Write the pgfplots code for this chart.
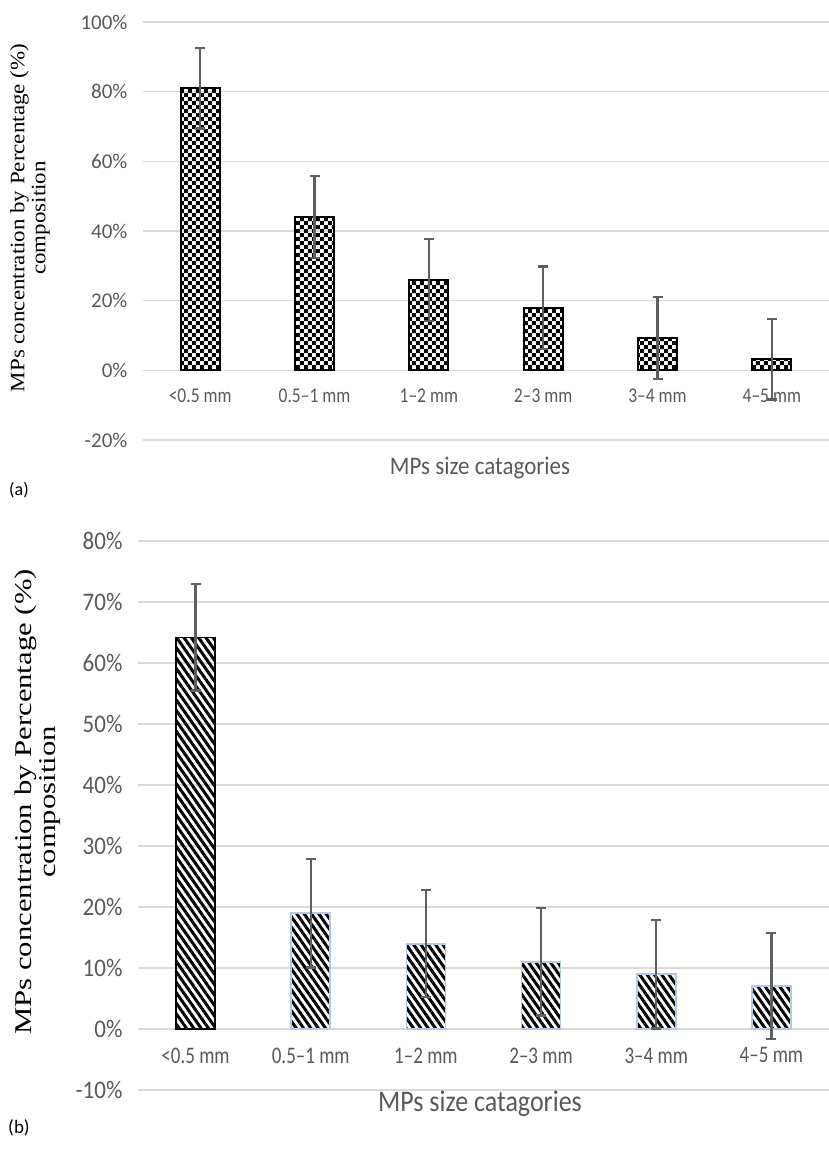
\documentclass[border=0pt]{standalone}
\usepackage{pgfplots}
\pgfplotsset{compat=1.18}
\usepackage{fontspec}
\setmainfont{Carlito}
\newfontfamily\serifx{Liberation Serif}
\usetikzlibrary{patterns,patterns.meta}
\definecolor{tickc}{HTML}{595959}
\definecolor{gridc}{HTML}{D9D9D9}
\definecolor{errc}{HTML}{5F5F5F}
\definecolor{lblue}{HTML}{B4C7E7}

\pgfdeclarepatternformonly{checker}{\pgfqpoint{0pt}{0pt}}{\pgfqpoint{8.4pt}{8.4pt}}{\pgfqpoint{8.4pt}{8.4pt}}{%
 \pgfpathrectangle{\pgfqpoint{0pt}{0pt}}{\pgfqpoint{4.2pt}{4.2pt}}%
 \pgfpathrectangle{\pgfqpoint{4.2pt}{4.2pt}}{\pgfqpoint{4.2pt}{4.2pt}}%
 \pgfusepath{fill}}

\pgfplotsset{excel/.style={
  scale only axis,
  xmin=-0.5, xmax=5.5,
  axis x line*=middle, axis y line*=left,
  y axis line style={draw=none},
  x axis line style={draw=gridc, line width=1.4pt},
  tick style={draw=none},
  ymajorgrids,
  major grid style={draw=gridc, line width=1.4pt},
  xtick={0,...,5},
  xticklabels={<0.5 mm,0.5--1 mm,1--2 mm,2--3 mm,3--4 mm,4--5 mm},
  ticklabel style={text=tickc},
  ybar, bar shift=0pt, bar width=39pt,
  clip=false,
  error bars/y dir=both, error bars/y explicit,
  error bars/error bar style={draw=errc, line width=2.2pt},
  error bars/error mark options={draw=errc, line width=2.2pt, mark size=5pt, rotate=90},
}}

\begin{document}
\begin{tikzpicture}
\path[use as bounding box] (0pt,0pt) rectangle (829pt,-1149pt);

% ---------- panel (a) ----------
\begin{axis}[excel,
  at={(143pt,-440pt)}, anchor=south west,
  width=686pt, height=418pt,
  ymin=-20, ymax=100,
  ytick={-20,0,20,40,60,80,100},
  yticklabels={-20\%,0\%,20\%,40\%,60\%,80\%,100\%},
  yticklabel style={font=\fontsize{21}{24}\selectfont, xshift=-12pt},
  xticklabel style={font=\fontsize{17.5}{20}\selectfont, yshift=-10pt, yscale=1.2},
]
\addplot[draw=black, line width=1.8pt, pattern=checker] coordinates {
  (0,81.0) +- (0,11.6)
  (1,44.0) +- (0,11.8)
  (2,26.0) +- (0,11.8)
  (3,18.0) +- (0,11.8)
  (4,9.3) +- (0,11.7)
  (5,3.2) +- (0,11.6)
};
\end{axis}

\node[text=tickc, font=\fontsize{23}{27}\selectfont, yscale=1.1] at (480pt,-468pt) {MPs size catagories};
\node[font=\fontsize{18}{21}\selectfont] at (19pt,-490pt) {(a)};
\node at (30pt,-218pt) {\rotatebox{90}{\scalebox{1.12}[1]{\serifx\fontsize{20.5}{24}\selectfont\begin{tabular}{c}MPs concentration by Percentage (\%)\\[-3pt] composition\end{tabular}}}};

% ---------- panel (b) ----------
\begin{axis}[excel,
  at={(138pt,-1090pt)}, anchor=south west,
  width=691pt, height=549pt,
  ymin=-10, ymax=80,
  ytick={-10,0,10,20,30,40,50,60,70,80},
  yticklabels={-10\%,0\%,10\%,20\%,30\%,40\%,50\%,60\%,70\%,80\%},
  yticklabel style={font=\fontsize{23}{27}\selectfont, xshift=-12pt, yscale=1.1},
  xticklabel style={font=\fontsize{19}{22}\selectfont, yshift=-10pt, yscale=1.25},
]
\addplot[draw=black, line width=1.8pt, pattern={Lines[angle=-55,distance=6pt,line width=3pt]}] coordinates {
  (0,64.2) +- (0,8.7)
};
\addplot[draw=lblue, line width=1.8pt, pattern={Lines[angle=-55,distance=6pt,line width=3pt]}] coordinates {
  (1,19.0) +- (0,8.9)
  (2,14.0) +- (0,8.8)
  (3,11.0) +- (0,8.8)
  (4,9.0) +- (0,8.9)
  (5,7.0) +- (0,8.7)
};
\end{axis}

\node[text=tickc, font=\fontsize{26}{30}\selectfont, yscale=1.15] at (480pt,-1104pt) {MPs size catagories};
\node[font=\fontsize{19}{22}\selectfont] at (19pt,-1128pt) {(b)};
\node at (38pt,-802pt) {\rotatebox{90}{\scalebox{1.28}[1]{\serifx\fontsize{24}{28}\selectfont\begin{tabular}{c}MPs concentration by Percentage (\%)\\[-4pt] composition\end{tabular}}}};
\end{tikzpicture}
\end{document}
